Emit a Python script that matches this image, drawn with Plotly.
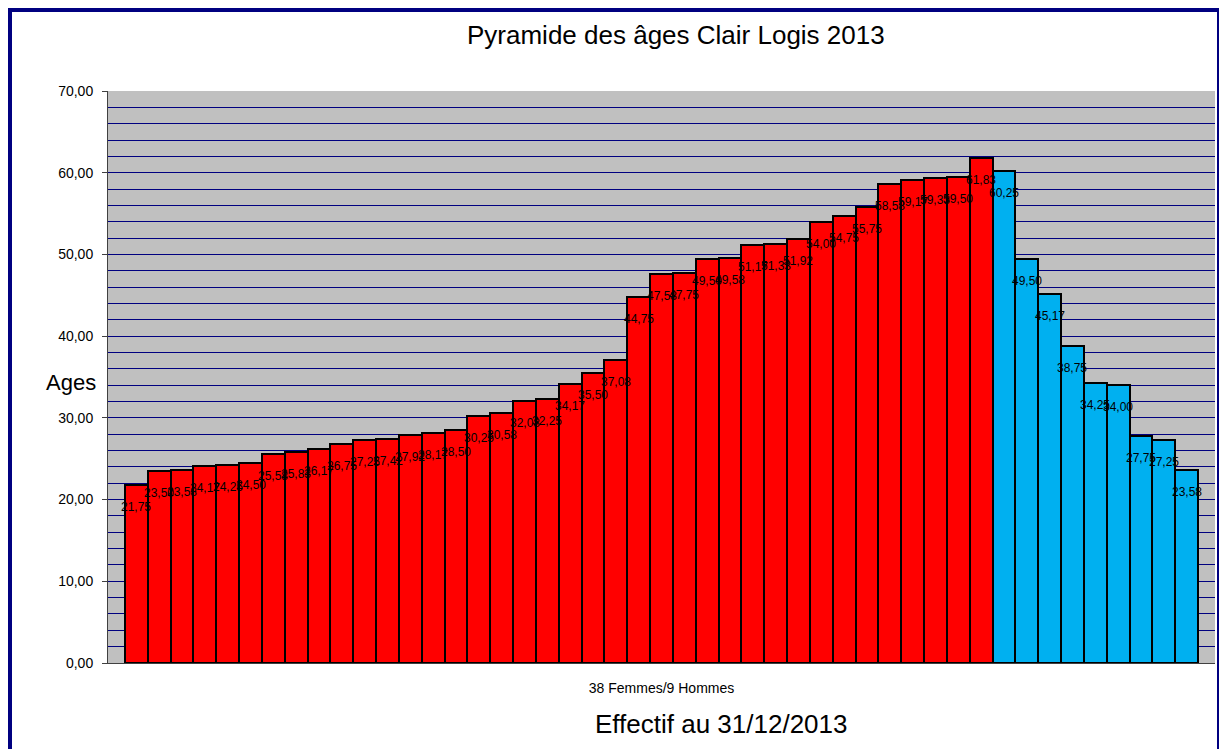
import plotly.graph_objects as go

# ---- data ----
femmes_ages = [21.75, 23.50, 23.58, 24.17, 24.25, 24.50, 25.58, 25.83, 26.17, 26.75,
               27.25, 27.42, 27.92, 28.17, 28.50, 30.25, 30.58, 32.08, 32.25, 34.17,
               35.50, 37.08, 44.75, 47.58, 47.75, 49.50, 49.58, 51.17, 51.33, 51.92,
               54.00, 54.75, 55.75, 58.58, 59.17, 59.33, 59.50, 61.83]
hommes_ages = [60.25, 49.50, 45.17, 38.75, 34.25, 34.00, 27.75, 27.25, 23.58]
category_label = "38 Femmes/9 Hommes"
title_text = "Pyramide des âges Clair Logis 2013"
xaxis_title = "Effectif au 31/12/2013"
yaxis_title = "Ages"

OFF = 8  # page body margin of the html page
W, H = 1227 - OFF, 749 - OFF
L, R, T, B = 108 - OFF, 1215 - OFF, 91 - OFF, 663 - OFF  # plot area in figure px

n_f = len(femmes_ages)
n_h = len(hommes_ages)
x_f = list(range(n_f))
x_h = list(range(n_f, n_f + n_h))
n_all = n_f + n_h

FONT = "Liberation Sans, Arial, sans-serif"

fig = go.Figure()
fig.add_trace(go.Bar(x=x_f, y=femmes_ages, marker=dict(color="#FF0000", line=dict(color="#000000", width=2)),
                     name="Femmes", showlegend=False, hoverinfo="y"))
fig.add_trace(go.Bar(x=x_h, y=hommes_ages, marker=dict(color="#00B0F0", line=dict(color="#000000", width=2)),
                     name="Hommes", showlegend=False, hoverinfo="y"))

annotations = []
for xs, ys in ((x_f, femmes_ages), (x_h, hommes_ages)):
    for xv, yv in zip(xs, ys):
        annotations.append(dict(x=xv, y=yv, xref="x", yref="y", text=f"{yv:.2f}".replace(".", ","),
                                showarrow=False, yshift=-22, yanchor="middle", xanchor="center",
                                font=dict(family=FONT, size=12, color="#000000")))

def px_x(p):
    return (p - OFF - L) / (R - L)

def px_y(p):
    return (B - (p - OFF)) / (B - T)

annotations.append(dict(x=px_x(676), y=px_y(35), xref="paper", yref="paper", text=title_text,
                        showarrow=False, xanchor="center", yanchor="middle",
                        font=dict(family=FONT, size=26, color="#000000")))
annotations.append(dict(x=px_x(721), y=px_y(724), xref="paper", yref="paper", text=xaxis_title,
                        showarrow=False, xanchor="center", yanchor="middle",
                        font=dict(family=FONT, size=26, color="#000000")))
annotations.append(dict(x=px_x(71), y=px_y(383), xref="paper", yref="paper", text=yaxis_title,
                        showarrow=False, xanchor="center", yanchor="middle",
                        font=dict(family=FONT, size=22, color="#000000")))

unit = (1198 - 125) / n_all
left_pad = (125 - 108) / unit
right_pad = (1215 - 1198) / unit

fig.update_layout(
    width=W, height=H,
    margin=dict(l=L, r=W - R, t=T, b=H - B, pad=0),
    paper_bgcolor="#FFFFFF",
    plot_bgcolor="#C0C0C0",
    bargap=0,
    separators=", ",
    annotations=annotations,
    xaxis=dict(range=[-0.5 - left_pad, n_all - 0.5 + right_pad], tickmode="array",
               tickvals=[(n_all - 1) / 2], ticktext=[category_label], ticks="",
               ticklabelstandoff=12,
               showgrid=False, zeroline=False, showline=True, linecolor="#404040", linewidth=1,
               tickfont=dict(family=FONT, size=14, color="#000000"), fixedrange=True),
    yaxis=dict(range=[0, 70], dtick=10, tickformat=".2f", ticks="outside", ticklen=5,
               ticklabelstandoff=6,
               tickcolor="#404040", showline=True, linecolor="#404040", linewidth=1,
               showgrid=True, gridcolor="#000080", gridwidth=1, zeroline=False,
               minor=dict(dtick=2, showgrid=True, gridcolor="#000080", gridwidth=1, ticks=""),
               tickfont=dict(family=FONT, size=14, color="#000000"), fixedrange=True),
    shapes=[dict(type="rect", xref="paper", yref="paper",
                 x0=px_x(9.5), x1=px_x(1219.5), y0=px_y(9.5), y1=px_y(760),
                 line=dict(color="#000080", width=5), layer="above")],
)

fig.write_html("out.html")
